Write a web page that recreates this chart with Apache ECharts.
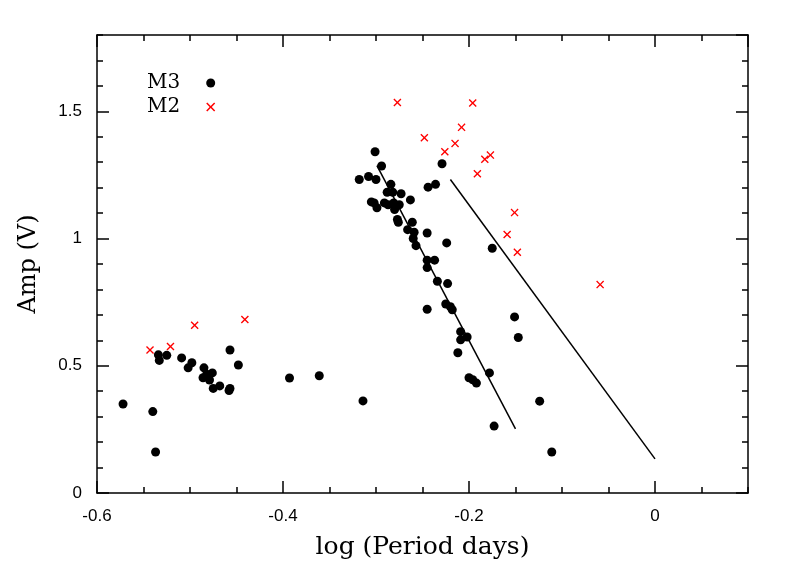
<!DOCTYPE html>
<html>
<head>
<meta charset="utf-8">
<script src="https://cdn.jsdelivr.net/npm/echarts@6/dist/echarts.min.js"></script>
<style>html,body{margin:0;padding:0;background:#fff}#c{width:789px;height:565px}</style>
</head>
<body>
<div id="c"></div>
<script>
// M3 RR Lyrae: [log P, Amp V]
const m3Points = [
  [-0.572,0.350],[-0.540,0.320],[-0.537,0.161],[-0.534,0.543],[-0.533,0.521],[-0.525,0.541],
  [-0.509,0.531],[-0.502,0.492],[-0.498,0.512],[-0.485,0.492],[-0.486,0.453],[-0.482,0.467],
  [-0.476,0.472],[-0.479,0.444],[-0.475,0.411],[-0.468,0.421],[-0.457,0.562],[-0.457,0.411],
  [-0.458,0.403],[-0.448,0.503],[-0.393,0.452],[-0.361,0.461],[-0.314,0.362],
  [-0.301,1.341],[-0.294,1.285],[-0.318,1.232],[-0.308,1.244],[-0.300,1.232],[-0.284,1.213],
  [-0.229,1.294],[-0.244,1.202],[-0.236,1.213],[-0.288,1.182],[-0.282,1.182],[-0.273,1.176],
  [-0.305,1.144],[-0.302,1.140],[-0.299,1.121],[-0.291,1.140],[-0.287,1.133],[-0.281,1.140],
  [-0.280,1.114],[-0.275,1.133],[-0.263,1.152],[-0.277,1.075],[-0.276,1.064],[-0.261,1.064],
  [-0.266,1.035],[-0.259,1.025],[-0.260,1.000],[-0.245,1.022],[-0.257,0.972],[-0.224,0.983],
  [-0.245,0.915],[-0.237,0.915],[-0.245,0.886],[-0.175,0.962],[-0.234,0.832],[-0.223,0.823],
  [-0.245,0.722],[-0.225,0.743],[-0.220,0.732],[-0.218,0.720],[-0.151,0.692],[-0.209,0.634],
  [-0.209,0.602],[-0.202,0.613],[-0.147,0.611],[-0.212,0.551],[-0.178,0.472],[-0.200,0.453],
  [-0.196,0.445],[-0.192,0.432],[-0.124,0.361],[-0.173,0.263],[-0.111,0.161]
];
// M2 RR Lyrae
const m2Points = [
  [-0.543,0.562],[-0.521,0.576],[-0.495,0.659],[-0.441,0.682],[-0.277,1.535],[-0.248,1.396],
  [-0.226,1.341],[-0.215,1.374],[-0.208,1.437],[-0.196,1.533],[-0.191,1.255],[-0.183,1.312],
  [-0.177,1.328],[-0.151,1.102],[-0.159,1.016],[-0.148,0.946],[-0.059,0.819]
];
// Reference period-amplitude lines
const lineA = [[-0.299,1.287],[-0.150,0.252]];
const lineB = [[-0.220,1.232],[0.0,0.134]];

const xTickLabels = ['-0.6','-0.4','-0.2','0'];
const yTickLabels = ['0','0.5','1','1.5'];

const X_MIN=-0.6, X_MAX=0.1, Y_MIN=0, Y_MAX=1.8;
const crossPath = 'path://M0,1.2L1.2,0L5,3.8L8.8,0L10,1.2L6.2,5L10,8.8L8.8,10L5,6.2L1.2,10L0,8.8L3.8,5Z';
const serif = 'DejaVu Serif';
const sans = 'Liberation Sans';

function fmtX(v){ const r=Math.round(v*10)/10; const s=(r===0?'0':r.toFixed(1)); return xTickLabels.includes(s)?s:''; }
function fmtY(v){ const r=Math.round(v*10)/10; const s=(r===0?'0':(Number.isInteger(r)?String(r):r.toFixed(1))); return yTickLabels.includes(s)?s:''; }

function xAx(pos, interval, len, labels, line, name){
  return {type:'value', position:pos, min:X_MIN, max:X_MAX, interval:interval,
    axisLine:{show:line, onZero:false, lineStyle:{color:'#000', width:1.5}},
    axisTick:{show:true, inside:true, length:len, lineStyle:{color:'#000', width:1.5}},
    axisLabel:{show:labels, formatter:fmtX, color:'#000', fontFamily:sans, fontSize:17, margin:15, showMaxLabel:false},
    splitLine:{show:false},
    name:name||'', nameLocation:'middle', nameGap:42,
    nameTextStyle:{fontFamily:serif, fontSize:25, color:'#000'}};
}
function yAx(pos, interval, len, labels, line, name){
  return {type:'value', position:pos, min:Y_MIN, max:Y_MAX, interval:interval,
    axisLine:{show:line, onZero:false, lineStyle:{color:'#000', width:1.5}},
    axisTick:{show:true, inside:true, length:len, lineStyle:{color:'#000', width:1.5}},
    axisLabel:{show:labels, formatter:fmtY, color:'#000', fontFamily:sans, fontSize:17, margin:15, showMaxLabel:false},
    splitLine:{show:false},
    name:name||'', nameLocation:'middle', nameGap:56,
    nameTextStyle:{fontFamily:serif, fontSize:24, color:'#000'}};
}

const chart = echarts.init(document.getElementById('c'), null, {renderer:'canvas'});
chart.setOption({
  animation:false,
  backgroundColor:'#fff',
  grid:{left:97, top:35, right:41, bottom:72, containLabel:false},
  xAxis:[
    xAx('bottom',0.2,12,true,true,'log (Period days)'),
    xAx('bottom',0.05,6,false,false),
    xAx('top',0.2,12,false,true),
    xAx('top',0.05,6,false,false)
  ],
  yAxis:[
    yAx('left',0.5,12,true,true,'Amp (V)'),
    yAx('left',0.1,6,false,false),
    yAx('right',0.5,12,false,true),
    yAx('right',0.1,6,false,false)
  ],
  legend:{
    orient:'vertical', left:142, top:68, align:'right', itemGap:4,
    itemWidth:9, itemHeight:9,
    textStyle:{fontFamily:serif, fontSize:20, color:'#000', padding:[0,21,0,0]},
    data:[
      {name:'M3', icon:'circle'},
      {name:'M2', icon:crossPath}
    ]
  },
  series:[
    {name:'M3', type:'scatter', data:m3Points, symbol:'circle', symbolSize:9,
      itemStyle:{color:'#000', opacity:1}},
    {name:'M2', type:'scatter', data:m2Points, symbol:crossPath, symbolSize:8,
      itemStyle:{color:'#ff0000', opacity:1}},
    {name:'lineA', type:'line', data:lineA, symbol:'none', lineStyle:{color:'#000', width:1.5}},
    {name:'lineB', type:'line', data:lineB, symbol:'none', lineStyle:{color:'#000', width:1.5}}
  ]
});
</script>
</body>
</html>
